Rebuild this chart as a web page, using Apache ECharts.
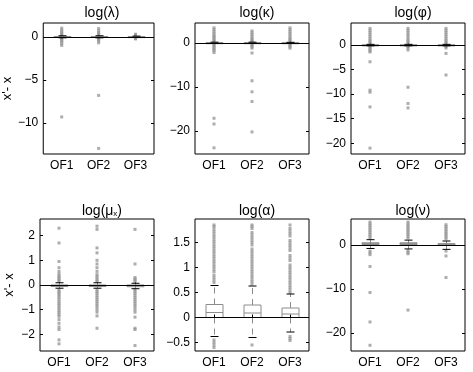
<!DOCTYPE html>
<html>
<head>
<meta charset="utf-8">
<script src="https://cdn.jsdelivr.net/npm/echarts@6/dist/echarts.min.js"></script>
<style>html,body{margin:0;padding:0;background:#fff}#main{width:473px;height:372px}</style>
</head>
<body>
<div id="main"></div>
<script>
var categories = ['OF1', 'OF2', 'OF3'];

// box stats per category: [min, q1, median, q3, max]
var lambdaBox = [[-0.12, -0.03, 0, 0.03, 0.12], [-0.12, -0.03, 0, 0.03, 0.12], [-0.08, -0.02, 0, 0.02, 0.08]];
var kappaBox = [[-0.15, -0.04, 0, 0.04, 0.15], [-0.15, -0.04, 0, 0.04, 0.15], [-0.12, -0.03, 0, 0.03, 0.12]];
var phiBox = [[-0.15, -0.04, 0, 0.04, 0.15], [-0.15, -0.04, 0, 0.04, 0.15], [-0.15, -0.04, 0, 0.04, 0.15]];
var muBox = [[-0.13, -0.06, -0.03, 0.0, 0.09], [-0.13, -0.06, -0.03, 0.0, 0.09], [-0.15, -0.07, -0.03, 0.0, 0.07]];
var alphaBox = [[-0.38, 0.0, 0.1, 0.26, 0.64], [-0.4, 0.0, 0.09, 0.25, 0.63], [-0.29, 0.0, 0.07, 0.19, 0.47]];
var nuBox = [[-0.8, 0.1, 0.3, 0.5, 1.2], [-0.9, 0.1, 0.3, 0.5, 1.1], [-1.0, 0.0, 0.15, 0.3, 0.9]];

// outliers per category
var lambdaOut = [
  [1.0, 0.8, 0.6, 0.45, 0.3, 0.2, -0.2, -0.3, -0.45, -0.6, -0.8, -1.0, -9.3],
  [0.95, 0.7, 0.5, 0.35, 0.2, -0.2, -0.35, -0.5, -0.7, -6.8, -12.95],
  [0.3, 0.2, -0.2, -0.25]
];
var kappaOut = [
  [3.4, 3.0, 2.6, 2.2, 1.8, 1.5, 1.2, 0.9, 0.6, 0.3, -0.3, -0.6, -0.9, -1.2, -1.5, -1.8, -2.2, -17.1, -18.4, -23.8],
  [2.7, 2.3, 1.9, 1.5, 1.1, 0.8, 0.5, 0.3, -0.3, -0.6, -0.9, -1.2, -2.3, -8.6, -11.1, -13.3, -20.2],
  [3.4, 3.0, 2.6, 2.2, 1.8, 1.4, 1.0, 0.7, 0.4, -0.3, -0.6, -0.9, -1.2]
];
var phiOut = [
  [3.4, 3.0, 2.6, 2.2, 1.8, 1.4, 1.0, 0.7, 0.4, -0.3, -0.6, -0.9, -1.2, -1.4, -3.4, -9.2, -9.6, -12.6, -21.0],
  [3.4, 3.0, 2.6, 2.2, 1.8, 1.4, 1.0, 0.7, 0.4, -0.3, -0.6, -1.0, -8.6, -11.9, -12.8],
  [3.4, 3.0, 2.6, 2.2, 1.8, 1.4, 1.0, 0.7, 0.4, -0.3, -0.6, -1.7, -6.1]
];
var muOut = [
  [2.3, 1.7, 0.95, 0.7, 0.55, 0.45, 0.38, 0.32, 0.26, 0.2, 0.15, -0.2, -0.26, -0.32, -0.38, -0.45, -0.52, -0.6, -0.68, -0.75,
   -0.82, -0.9, -0.97, -1.05, -1.12, -1.2, -1.27, -1.4, -1.55, -1.7, -1.8, -2.22, -2.38],
  [2.38, 2.25, 1.5, 1.3, 1.0, 0.85, 0.7, 0.55, 0.42, 0.35, 0.28, 0.2, 0.15, -0.2, -0.27, -0.34, -0.42, -0.5, -0.58, -0.66,
   -0.74, -0.82, -0.9, -1.0, -1.1, -1.25, -1.75],
  [2.25, 0.85, 0.3, 0.25, 0.2, 0.15, -0.2, -0.27, -0.34, -0.42, -0.5, -0.58, -0.66, -0.74, -0.82, -0.9, -1.0, -1.1,
   -1.3, -1.75, -1.8, -2.45]
];
var alphaOut = [
  [0.7, 0.75, 0.8, 0.85, 0.92, 0.97, 1.02, 1.07, 1.12, 1.17, 1.22, 1.27, 1.32, 1.37, 1.42, 1.47, 1.52, 1.57, 1.62, 1.67,
   1.72, 1.77, 1.82, 1.85, -0.45, -0.5, -0.55, -0.6],
  [0.67, 0.72, 0.77, 0.82, 0.87, 0.92, 0.97, 1.02, 1.07, 1.12, 1.17, 1.22, 1.27, 1.32, 1.37, 1.45, 1.5, 1.55, 1.6, 1.65,
   1.7, 1.78, 1.82, 1.85, -0.55],
  [0.5, 0.55, 0.6, 0.65, 0.7, 0.75, 0.8, 0.85, 0.9, 0.95, 1.0, 1.05, 1.14, 1.19, 1.24, 1.34, 1.39, 1.44, 1.49, 1.54,
   1.63, 1.68, 1.73, 1.78, 1.85, -0.38, -0.42, -0.46]
];
var nuOut = [
  [1.6, 2.0, 2.4, 2.8, 3.2, 3.6, 4.0, 4.4, 4.8, 5.2, -1.4, -1.8, -2.2, -4.9, -10.8, -17.5, -22.8],
  [1.6, 2.0, 2.4, 2.8, 3.2, 3.6, 4.0, 4.4, 4.8, 5.2, -1.3, -1.7, -2.0, -14.8],
  [1.4, 1.8, 2.2, 2.6, 3.0, 3.4, 3.8, 4.2, 4.6, -1.4, -2.5, -7.4]
];

// y-axis tick labels
var lambdaTicks = [-10, -5, 0];
var kappaTicks = [-20, -10, 0];
var phiTicks = [-20, -15, -10, -5, 0];
var muTicks = [-2, -1, 0, 1, 2];
var alphaTicks = [-0.5, 0, 0.5, 1, 1.5];
var nuTicks = [-20, -10, 0];

var panels = [
  {title: 'log(λ)', box: lambdaBox, out: lambdaOut, ticks: lambdaTicks, min: -13.6, max: 1.6},
  {title: 'log(κ)', box: kappaBox, out: kappaOut, ticks: kappaTicks, min: -25.2, max: 4.5},
  {title: 'log(φ)', box: phiBox, out: phiOut, ticks: phiTicks, min: -22.2, max: 4.5},
  {title: '{a|log(μ}{s|x}{a|)}', box: muBox, out: muOut, ticks: muTicks, min: -2.67, max: 2.67},
  {title: 'log(α)', box: alphaBox, out: alphaOut, ticks: alphaTicks, min: -0.67, max: 1.97},
  {title: 'log(ν)', box: nuBox, out: nuOut, ticks: nuTicks, min: -24.1, max: 5.9}
];

var font = 'Liberation Sans';
var lefts = [40, 195, 351];
var tops = [23, 219];
var gray = '#8c8c8c';

function minus(v) { return String(v).replace('-', '\u2212'); }

function renderBox(params, api) {
  var x = api.value(0);
  var lo = api.coord([x, api.value(1)]);
  var q1 = api.coord([x, api.value(2)]);
  var md = api.coord([x, api.value(3)]);
  var q3 = api.coord([x, api.value(4)]);
  var hi = api.coord([x, api.value(5)]);
  var cx = Math.round(lo[0]) + 0.5, hw = 8.5, cw = 4;
  return {
    type: 'group',
    children: [
      {type: 'line', shape: {x1: cx, y1: q3[1], x2: cx, y2: hi[1]}, style: {stroke: gray, lineWidth: 1, lineDash: [6, 5]}},
      {type: 'line', shape: {x1: cx, y1: q1[1], x2: cx, y2: lo[1]}, style: {stroke: gray, lineWidth: 1, lineDash: [6, 5]}},
      {type: 'rect', shape: {x: cx - hw, y: q3[1], width: 2 * hw, height: Math.max(q1[1] - q3[1], 1)}, style: {fill: 'none', stroke: gray, lineWidth: 1}},
      {type: 'line', shape: {x1: cx - hw, y1: md[1], x2: cx + hw, y2: md[1]}, style: {stroke: gray, lineWidth: 1}},
      {type: 'line', shape: {x1: cx - cw, y1: hi[1], x2: cx + cw, y2: hi[1]}, style: {stroke: '#000', lineWidth: 1}},
      {type: 'line', shape: {x1: cx - cw, y1: lo[1], x2: cx + cw, y2: lo[1]}, style: {stroke: '#000', lineWidth: 1}}
    ]
  };
}

var grid = [], xAxis = [], yAxis = [], series = [], title = [];
panels.forEach(function (p, i) {
  var col = i % 3, row = Math.floor(i / 3);
  grid.push({left: lefts[col], top: tops[row], width: 114, height: row ? 132 : 131,
    show: true, borderColor: '#000', borderWidth: 1, backgroundColor: 'transparent'});
  title.push({text: p.title, left: lefts[col] + 57, top: row ? 199 : 1, textAlign: 'center',
    textStyle: {fontFamily: font, fontSize: 14, fontWeight: 'normal', color: '#000',
      rich: {a: {fontFamily: font, fontSize: 14, color: '#000'}, s: {fontFamily: font, fontSize: 8, color: '#000', verticalAlign: 'bottom', padding: [6, 0, 0, 0]}}}});
  ['bottom', 'top'].forEach(function (pos) {
    xAxis.push({type: 'category', gridIndex: i, position: pos, data: categories, boundaryGap: true,
      axisLine: {show: false},
      axisTick: {show: true, inside: true, length: 3, alignWithLabel: true, lineStyle: {color: '#000'}},
      axisLabel: {show: pos === 'bottom', fontFamily: font, fontSize: 12, color: '#000', margin: 6},
      splitLine: {show: false}});
  });
  ['left', 'right'].forEach(function (pos) {
    var y = {type: 'value', gridIndex: i, position: pos, min: p.min, max: p.max,
      axisLine: {show: false},
      axisTick: {show: true, inside: true, length: 3, customValues: p.ticks, lineStyle: {color: '#000'}},
      axisLabel: {show: pos === 'left', customValues: p.ticks, fontFamily: font, fontSize: 12, color: '#000', margin: 5, formatter: minus},
      splitLine: {show: false}};
    if (pos === 'left' && col === 0) {
      y.name = "x'- x";
      y.nameLocation = 'middle';
      y.nameGap = 24;
      y.nameTextStyle = {fontFamily: font, fontSize: 13, color: '#000'};
    }
    yAxis.push(y);
  });
  var boxData = p.box.map(function (b, k) { return [k].concat(b); });
  var outData = [];
  p.out.forEach(function (vals, k) { vals.forEach(function (v) { outData.push([k, v]); }); });
  series.push({type: 'scatter', xAxisIndex: 2 * i, yAxisIndex: 2 * i, data: outData, z: 2,
    symbol: 'rect', symbolSize: 3,
    itemStyle: {color: '#999'}, silent: true,
    markLine: {silent: true, symbol: ['none', 'none'], label: {show: false}, z: 5,
      lineStyle: {color: '#000', width: 1, type: 'solid'}, data: [{yAxis: 0}]}});
  series.push({type: 'custom', xAxisIndex: 2 * i, yAxisIndex: 2 * i, data: boxData, z: 3,
    renderItem: renderBox, encode: {x: 0, y: [1, 2, 3, 4, 5]}, silent: true});
});

var chart = echarts.init(document.getElementById('main'));
chart.setOption({
  animation: false,
  title: title,
  grid: grid,
  xAxis: xAxis,
  yAxis: yAxis,
  series: series
});
</script>
</body>
</html>
